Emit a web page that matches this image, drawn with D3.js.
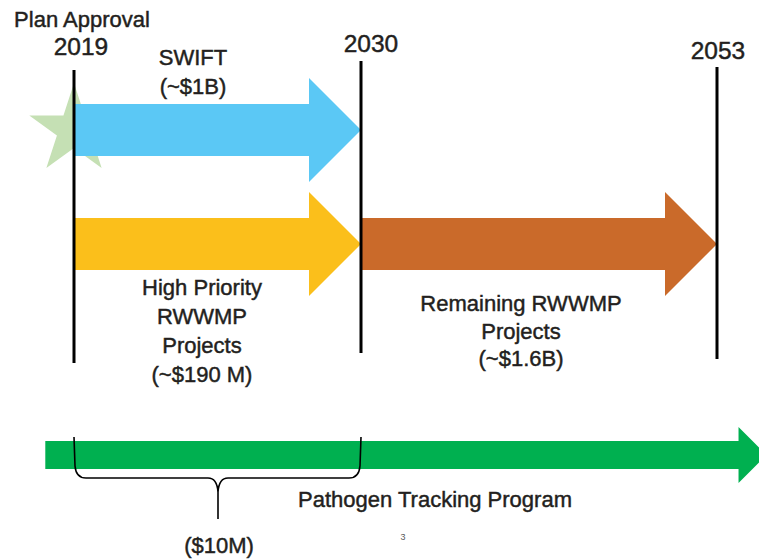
<!DOCTYPE html>
<html>
<head>
<meta charset="utf-8">
<script src="https://cdn.jsdelivr.net/npm/d3@7"></script>
<style>
  body { margin: 0; background: #fff; }
  svg text {
    font-family: "Liberation Sans", Arial, sans-serif;
    fill: #231f20;
    stroke: #231f20;
    stroke-width: 0.45px;
  }
</style>
</head>
<body>
<div id="chart"></div>
<script>
// milestone years shown on the timeline
var years = [2019, 2030, 2053];
var yearTitles = ["Plan Approval", "", ""];

// program phases (start year, end year, row)
var phaseNames = ["SWIFT", "High Priority RWWMP", "Remaining RWWMP", "Pathogen Tracking"];
var phaseStart = [2019, 2019, 2030, 2017.9];
var phaseEnd = [2030, 2030, 2053, 2056.2];
var phaseRow = ["top", "middle", "middle", "bottom"];
var phaseLabels = [
  ["SWIFT", "(~$1B)"],
  ["High Priority", "RWWMP", "Projects", "(~$190 M)"],
  ["Remaining RWWMP", "Projects", "(~$1.6B)"],
  ["Pathogen Tracking Program"]
];

// bracketed budget for the pathogen program
var braceYears = [2019, 2030];
var braceLabel = "($10M)";

var colors = ["#5bc8f5", "#fbbf1b", "#ca6a2a", "#00b050"];

var width = 759, height = 559;

var svg = d3.select("#chart")
  .append("svg")
  .attr("width", width)
  .attr("height", height);

// piecewise time scale (milestones are not evenly spaced in the slide)
var x = d3.scaleLinear()
  .domain(years)
  .range([74, 361, 717]);

var y = d3.scaleOrdinal()
  .domain(["top", "middle", "bottom"])
  .range([130, 244, 455]);

// arrow sizes per row
var bodyHalf = { top: 26, middle: 26, bottom: 14 };
var headHalf = { top: 52, middle: 52, bottom: 28 };

function arrowPath(x0, x1, cy, b, h) {
  var hx = x1 - h;
  var p = d3.path();
  p.moveTo(x0, cy - b);
  p.lineTo(hx, cy - b);
  p.lineTo(hx, cy - h);
  p.lineTo(x1, cy);
  p.lineTo(hx, cy + h);
  p.lineTo(hx, cy + b);
  p.lineTo(x0, cy + b);
  p.closePath();
  return p.toString();
}

// star behind the approval milestone
var star = d3.symbol().type(d3.symbolStar).size(2480);
svg.append("path")
  .attr("d", star())
  .attr("transform", "translate(" + x(years[0]) + ",130)")
  .attr("fill", "#c5e0b4");

// arrows
svg.selectAll("path.phase")
  .data(phaseNames)
  .enter()
  .append("path")
  .attr("class", "phase")
  .attr("fill", function (d, i) { return colors[i]; })
  .attr("d", function (d, i) {
    var r = phaseRow[i];
    return arrowPath(x(phaseStart[i]), x(phaseEnd[i]), y(r), bodyHalf[r], headHalf[r]);
  });

// milestone lines
var lineTop = [70, 61, 67];
var lineBottom = [363, 353, 359];
svg.selectAll("line.milestone")
  .data(years)
  .enter()
  .append("line")
  .attr("class", "milestone")
  .attr("x1", function (d) { return x(d); })
  .attr("x2", function (d) { return x(d); })
  .attr("y1", function (d, i) { return lineTop[i]; })
  .attr("y2", function (d, i) { return lineBottom[i]; })
  .attr("stroke", "#000")
  .attr("stroke-width", 3);

// year labels
var yearDx = [7, 10, 1];
var yearBaseline = [55, 52, 59];
svg.selectAll("text.year")
  .data(years)
  .enter()
  .append("text")
  .attr("class", "year")
  .attr("x", function (d, i) { return x(d) + yearDx[i]; })
  .attr("y", function (d, i) { return yearBaseline[i]; })
  .attr("text-anchor", "middle")
  .style("font-size", "24.5px")
  .text(function (d) { return d; });

svg.append("text")
  .attr("x", x(years[0]) + 8)
  .attr("y", 27)
  .attr("text-anchor", "middle")
  .style("font-size", "22px")
  .text(yearTitles[0]);

// phase labels
var labelX = [193, 202, 521, 435];
var labelY = [65, 295, 311, 507];
var lineGap = [29, 29, 27.5, 0];
phaseLabels.forEach(function (lines, i) {
  var t = svg.append("text")
    .attr("text-anchor", "middle")
    .style("font-size", "22px");
  lines.forEach(function (s, j) {
    t.append("tspan")
      .attr("x", labelX[i])
      .attr("y", labelY[i] + j * lineGap[i])
      .text(s);
  });
});

// curly brace under the pathogen arrow
var bx0 = x(braceYears[0]), bx1 = x(braceYears[1]);
var bm = 218, bTop = 437, bMid = 478, bTip = 519;
var bp = d3.path();
bp.moveTo(bx0, bTop);
bp.lineTo(bx0 + 1, bMid - 12);
bp.quadraticCurveTo(bx0 + 2, bMid, bx0 + 12, bMid);
bp.lineTo(bm - 10, bMid);
bp.quadraticCurveTo(bm - 1, bMid, bm, bMid + 14);
bp.lineTo(bm, bTip);
bp.moveTo(bx1, bTop);
bp.lineTo(bx1 - 1, bMid - 12);
bp.quadraticCurveTo(bx1 - 2, bMid, bx1 - 12, bMid);
bp.lineTo(bm + 10, bMid);
bp.quadraticCurveTo(bm + 1, bMid, bm, bMid + 14);
svg.append("path")
  .attr("d", bp.toString())
  .attr("fill", "none")
  .attr("stroke", "#000")
  .attr("stroke-width", 1.6);

svg.append("text")
  .attr("x", bm + 1)
  .attr("y", 553)
  .attr("text-anchor", "middle")
  .style("font-size", "22px")
  .text(braceLabel);

// slide number
svg.append("text")
  .attr("x", 403)
  .attr("y", 540)
  .attr("text-anchor", "middle")
  .style("font-size", "9px")
  .style("fill", "#595959")
  .style("stroke", "none")
  .text("3");
</script>
</body>
</html>
